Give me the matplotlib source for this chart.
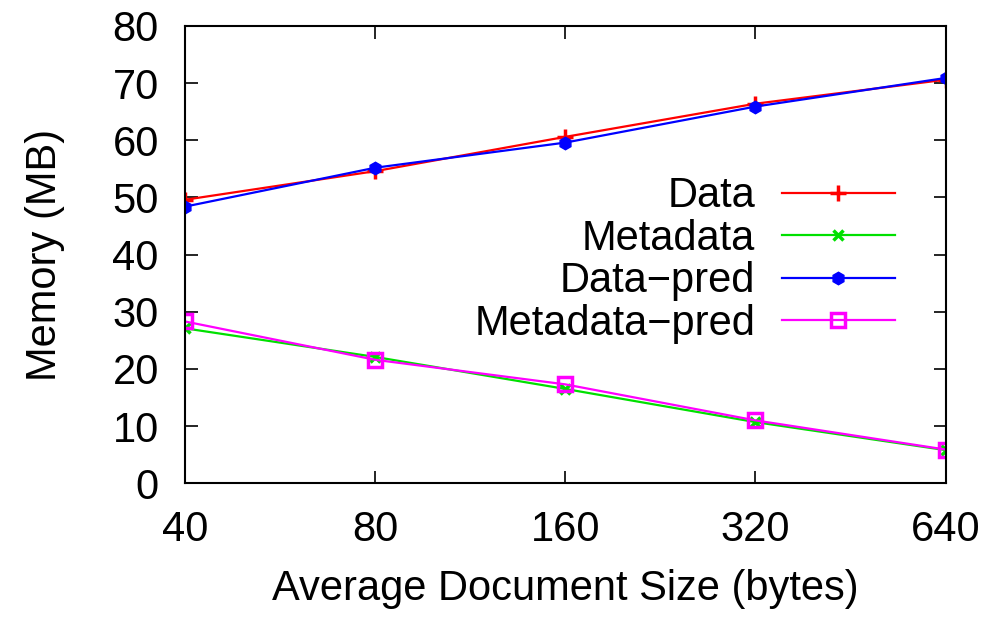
import matplotlib
matplotlib.use('Agg')
import matplotlib.pyplot as plt

sizes = [40, 80, 160, 320, 640]
data = [49.6, 54.6, 60.6, 66.4, 70.6]
metadata = [27.1, 22.1, 16.5, 10.7, 5.8]
data_pred = [48.4, 55.2, 59.6, 65.9, 70.9]
metadata_pred = [28.3, 21.6, 17.3, 11.0, 5.9]

plt.rcParams['font.family'] = ['Liberation Sans', 'DejaVu Sans']
FS = 30

fig = plt.figure(figsize=(9.85, 6.18), dpi=100)
ax = fig.add_axes([0.188, 0.218, 0.772, 0.740])

ax.plot(sizes, data, color='#ff0000', lw=1.6, marker='+', ms=11, mew=2.5, label='Data')
ax.plot(sizes, metadata, color='#00e000', lw=1.6, marker='x', ms=7, mew=2.5, label='Metadata')
ax.plot(sizes, data_pred, color='#0000ff', lw=1.6, marker='h', ms=9, mew=1, label='Data\u2212pred')
ax.plot(sizes, metadata_pred, color='#ff00ff', lw=1.6, marker='s', ms=10, mew=2.5,
        mfc='none', label='Metadata\u2212pred')

ax.set_xscale('log', base=2)
ax.set_xticks(sizes)
ax.set_xticklabels([str(s) for s in sizes])
ax.minorticks_off()
ax.set_xlim(40, 640)
ax.set_ylim(0, 80)
ax.set_yticks(range(0, 81, 10))

ax.tick_params(axis='both', direction='in', length=9, width=1.2, labelsize=FS,
               top=True, right=True)
ax.tick_params(axis='y', pad=19)
ax.tick_params(axis='x', pad=19)
for sp in ax.spines.values():
    sp.set_linewidth(1.5)

ax.set_xlabel('Average Document Size (bytes)', fontsize=FS, labelpad=14)
ax.set_ylabel('Memory (MB)', fontsize=FS, labelpad=34)

ax.legend(loc='center right', bbox_to_anchor=(0.933, 0.488), frameon=False, fontsize=FS,
          markerfirst=False, handlelength=2.7, labelspacing=0.06, handletextpad=0.65,
          borderpad=0, borderaxespad=0)

fig.savefig('out.png', dpi=100)
